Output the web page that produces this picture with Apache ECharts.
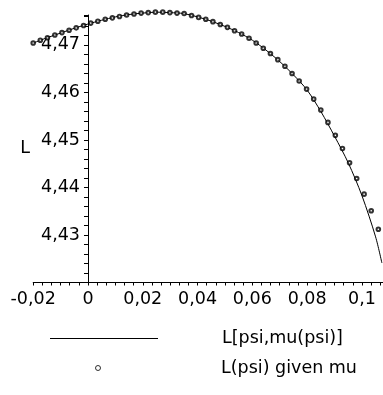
<!DOCTYPE html>
<html>
<head>
<meta charset="utf-8">
<script src="https://cdn.jsdelivr.net/npm/echarts@6/dist/echarts.min.js"></script>
<style>
html,body{margin:0;padding:0;background:#fff;}
#chart{width:383px;height:395px;}
</style>
</head>
<body>
<div id="chart"></div>
<script>
// profile likelihood curve L[psi, mu(psi)]
var linePsi = [-0.020,-0.015,-0.010,-0.005,0.000,0.005,0.010,0.015,0.020,0.025,0.030,0.035,0.040,0.045,0.050,0.055,0.060,0.065,0.070,0.075,0.080,0.085,0.090,0.095,0.100,0.105,0.1073];
var lineL   = [4.4704,4.4715,4.4725,4.4735,4.4744,4.4752,4.4759,4.4764,4.4767,4.4769,4.4768,4.4766,4.4759,4.4750,4.4739,4.4726,4.4710,4.4689,4.4665,4.4637,4.4605,4.4560,4.4508,4.4452,4.4383,4.4296,4.4241];
// L(psi) given mu (points)
var dotPsi = [-0.0200,-0.0174,-0.0148,-0.0121,-0.0095,-0.0069,-0.0043,-0.0016,0.0010,0.0036,0.0063,0.0089,0.0115,0.0141,0.0168,0.0194,0.0220,0.0246,0.0273,0.0299,0.0325,0.0351,0.0378,0.0404,0.0430,0.0456,0.0483,0.0509,0.0535,0.0561,0.0588,0.0614,0.0640,0.0666,0.0693,0.0719,0.0745,0.0771,0.0798,0.0824,0.0850,0.0876,0.0903,0.0929,0.0955,0.0981,0.1008,0.1034,0.1060];
var dotL   = [4.4704,4.4710,4.4715,4.4721,4.4726,4.4731,4.4736,4.4741,4.4746,4.4750,4.4754,4.4757,4.4760,4.4763,4.4765,4.4767,4.4768,4.4769,4.4769,4.4768,4.4767,4.4766,4.4762,4.4758,4.4754,4.4749,4.4743,4.4737,4.4730,4.4723,4.4714,4.4704,4.4693,4.4682,4.4669,4.4655,4.4640,4.4624,4.4607,4.4586,4.4563,4.4537,4.4510,4.4482,4.4452,4.4419,4.4386,4.4351,4.4312];
var seriesNames = ['L[psi,mu(psi)]', 'L(psi) given mu'];
var yAxisName = 'L';

function zip(a, b) { var r = []; for (var i = 0; i < a.length; i++) r.push([a[i], b[i]]); return r; }
function comma(v, d) { var s = String(parseFloat(Number(v).toFixed(d))); return s.replace('.', ','); }

var FONT = 'DejaVu Sans';
var FS = 17.5;
var W = 383;
var gridLeft = 33.2, gridRight = 0;
var xMin = -0.02, xMax = 0.1077;
// place the y axis line where x = 0 on the x scale
var yAxisOffset = -((0 - xMin) / (xMax - xMin)) * (W - gridLeft - gridRight);

function legendText(pad) {
  return {color: '#000', fontFamily: FONT, fontSize: FS,
    rich: {pad: {width: pad, fontFamily: FONT, fontSize: FS}}};
}
function legendFmt(name) { return '{pad|}' + name; }

var chart = echarts.init(document.getElementById('chart'), null, {renderer: 'canvas'});
chart.setOption({
  animation: false,
  backgroundColor: '#fff',
  textStyle: {fontFamily: FONT, color: '#000'},
  grid: {left: gridLeft, right: gridRight, top: 15, bottom: 112.5, containLabel: false},
  xAxis: {
    type: 'value', min: xMin, max: xMax, interval: 0.02,
    axisLine: {onZero: false, lineStyle: {color: '#000', width: 1}},
    axisTick: {show: true, length: 3, lineStyle: {color: '#000'}},
    minorTick: {show: true, splitNumber: 6, length: 3, lineStyle: {color: '#000'}},
    splitLine: {show: false}, minorSplitLine: {show: false},
    axisLabel: {showMaxLabel: false, margin: 8, color: '#000', fontFamily: FONT, fontSize: FS,
      formatter: function (v) { return comma(v, 4); }}
  },
  yAxis: {
    type: 'value', min: 4.42, max: 4.4763, interval: 0.01, offset: yAxisOffset,
    name: yAxisName, nameLocation: 'middle', nameRotate: 0, nameGap: 58, nameMoveOverlap: false,
    nameTextStyle: {color: '#000', fontFamily: FONT, fontSize: FS},
    axisLine: {onZero: false, lineStyle: {color: '#000', width: 1}},
    axisTick: {show: true, length: 4, lineStyle: {color: '#000'}},
    minorTick: {show: true, splitNumber: 5, length: 4, lineStyle: {color: '#000'}},
    splitLine: {show: false}, minorSplitLine: {show: false},
    axisLabel: {showMaxLabel: false, showMinLabel: false, margin: 8, color: '#000', fontFamily: FONT, fontSize: FS,
      formatter: function (v) { return comma(v, 2); }}
  },
  legend: [
    {data: [{name: seriesNames[0], icon: 'rect'}], left: 45, top: 324.5, itemWidth: 108, itemHeight: 1,
      itemStyle: {color: '#000', borderWidth: 0}, formatter: legendFmt, textStyle: legendText(59)},
    {data: [{name: seriesNames[1], icon: 'circle'}], left: 90, top: 354, itemWidth: 108, itemHeight: 5,
      itemStyle: {color: '#fff', borderColor: '#000', borderWidth: 1}, formatter: legendFmt, textStyle: legendText(64)}
  ],
  series: [
    {name: seriesNames[0], type: 'line', data: zip(linePsi, lineL), symbol: 'none', showSymbol: false, clip: false,
      smooth: 0.3, lineStyle: {color: '#000', width: 1}, itemStyle: {color: '#000'}, z: 2},
    {name: seriesNames[1], type: 'scatter', data: zip(dotPsi, dotL), symbol: 'emptyCircle', symbolSize: 3.6, clip: false,
      itemStyle: {color: '#000', borderColor: '#000', borderWidth: 0.9}, z: 3}
  ]
});
</script>
</body>
</html>
